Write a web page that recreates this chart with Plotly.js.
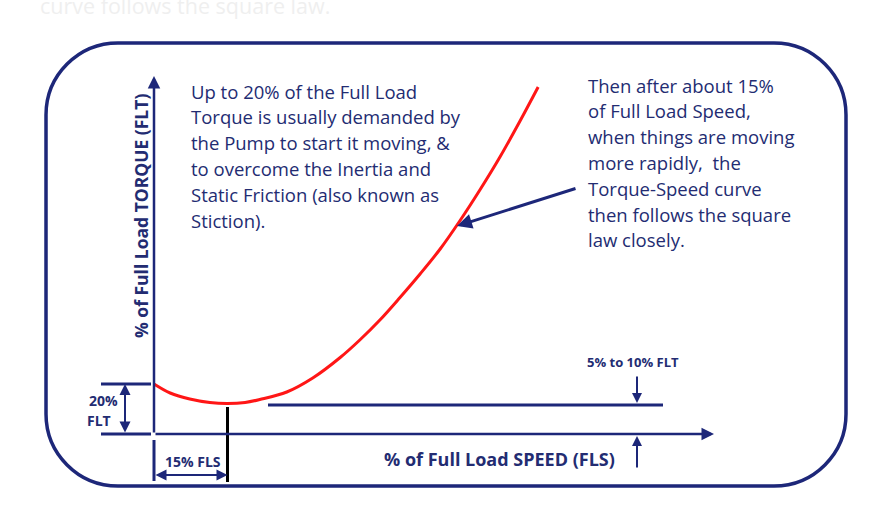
<!DOCTYPE html>
<html>
<head>
<meta charset="utf-8">
<script src="https://cdn.plot.ly/plotly-3.0.1.min.js"></script>
<style>html,body{margin:0;padding:0;background:#fff;}#chart{width:890px;height:508px;}</style>
</head>
<body>
<div id="chart"></div>
<script>
// Data: % of Full Load Speed vs % of Full Load Torque (schematic pump curve)
const speedPct  = [0, 3.3, 7.3, 11.4, 14.9, 18.6, 21.6, 27.1, 32.4, 38, 42, 46.1, 50.2, 54.3, 58.4, 62.4, 66.5, 70.6, 74.7, 78.4];
const torquePct = [20, 16.4, 14, 12.6, 12.2, 12.6, 13.8, 16.8, 22.4, 30.6, 37.6, 45.6, 54.6, 64, 74, 85.2, 97.6, 110.8, 125.2, 138.8];

const startTorque = 20;   // 20% FLT
const startSpeed = 15;    // 15% FLS
const xTitle = "% of Full Load SPEED (FLS)";
const yTitle = "% of Full Load TORQUE (FLT)";
const leftNote = ["Up to 20% of the Full Load", "Torque is usually demanded by", "the Pump to start it moving, &",
                  "to overcome the Inertia and", "Static Friction (also known as", "Stiction)."];
const rightNote = ["Then after about 15%", "of Full Load Speed,", "when things are moving", "more rapidly,  the",
                   "Torque-Speed curve", "then follows the square", "law closely."];
const frictionLabel = "5% to 10% FLT";
const fltLabel = ["20%", "FLT"];
const flsLabel = "15% FLS";
const fadedCaption = "curve follows the square law.";

// scale: pixel helpers (layout only)
const W = 890, H = 508, X0 = 154, Y0 = 434, KX = 4.9, KY = 2.5;
const dx = p => (p - X0) / KX;
const dy = p => (Y0 - p) / KY;
const NAVY = "#1d2779", TXT = "#232c72";
const FONT = "Open Sans, DejaVu Sans, sans-serif";

function arrow(x1, y1, x2, y2, opts) {
  return Object.assign({x: x2, y: y2, ax: x1, ay: y1, xref: "x", yref: "y", axref: "x", ayref: "y",
    text: "", showarrow: true, arrowhead: 2, arrowsize: 1, arrowwidth: 2.5, arrowcolor: NAVY, standoff: 0, startstandoff: 0}, opts || {});
}
function label(x, y, text, size, bold, opts) {
  return Object.assign({x: x, y: y, xref: "x", yref: "y", text: bold ? "<b>" + text + "</b>" : text, showarrow: false,
    font: {family: FONT, size: size, color: TXT}, xanchor: "center", yanchor: "middle"}, opts || {});
}
function seg(x0, y0, x1, y1, color, w) {
  return {type: "line", xref: "x", yref: "y", x0: x0, y0: y0, x1: x1, y1: y1, line: {color: color || NAVY, width: w || 3}};
}

// rounded frame in paper coordinates
function roundRect(l, t, r, b, rad) {
  const px = p => (p / W).toFixed(5), py = p => (1 - p / H).toFixed(5);
  const k = 0.5523 * rad;
  return "M " + px(l + rad) + "," + py(t) +
    " L " + px(r - rad) + "," + py(t) +
    " C " + px(r - rad + k) + "," + py(t) + " " + px(r) + "," + py(t + rad - k) + " " + px(r) + "," + py(t + rad) +
    " L " + px(r) + "," + py(b - rad) +
    " C " + px(r) + "," + py(b - rad + k) + " " + px(r - rad + k) + "," + py(b) + " " + px(r - rad) + "," + py(b) +
    " L " + px(l + rad) + "," + py(b) +
    " C " + px(l + rad - k) + "," + py(b) + " " + px(l) + "," + py(b - rad + k) + " " + px(l) + "," + py(b - rad) +
    " L " + px(l) + "," + py(t + rad) +
    " C " + px(l) + "," + py(t + rad - k) + " " + px(l + rad - k) + "," + py(t) + " " + px(l + rad) + "," + py(t) + " Z";
}

const trace = {x: speedPct, y: torquePct, type: "scatter", mode: "lines",
  line: {color: "#ff1616", width: 3, shape: "spline", smoothing: 1}, hoverinfo: "skip"};

const shapes = [
  {type: "path", xref: "paper", yref: "paper", path: roundRect(46, 43, 846, 486, 72), line: {color: NAVY, width: 3.5}},
  // friction baseline
  seg(dx(268), dy(405), dx(663), dy(405)),
  // 20% FLT ticks
  seg(dx(101), startTorque, dx(151), startTorque),
  seg(dx(101), 0, dx(151), 0),
  // 15% FLS markers
  seg(0, dy(440), 0, dy(481)),
  seg(startSpeed, dy(407), startSpeed, dy(482), "#000000", 3)
];

const annotations = [
  // axes
  arrow(0, 0, 0, dy(76), {arrowwidth: 2.5}),
  arrow(0, 0, dx(714), 0, {arrowwidth: 2.5}),
  // 20% FLT double arrow
  arrow(dx(125), 0, dx(125), startTorque, {arrowside: "end+start", arrowwidth: 2, arrowsize: 1.1}),
  // 15% FLS double arrow
  arrow(0, dy(475), startSpeed, dy(475), {arrowside: "end+start", arrowwidth: 2, arrowsize: 1.1}),
  // friction arrows
  arrow(dx(637), dy(375), dx(637), dy(403), {arrowwidth: 2}),
  arrow(dx(637), dy(469), dx(637), dy(436), {arrowwidth: 2}),
  // pointer to curve
  arrow(dx(577), dy(188), dx(457), dy(226), {arrowwidth: 3}),
  // titles
  label(dx(499), dy(459), xTitle, 18, true),
  label(dx(141), dy(216), yTitle, 17.5, true, {textangle: -90}),
  label(dx(633), dy(362), frictionLabel, 13, true),
  label(dx(103), dy(400), fltLabel[0], 14, true),
  label(dx(99), dy(420), fltLabel[1], 14, true),
  label(dx(193), dy(461), flsLabel, 14, true),
  label(dx(38), dy(5), fadedCaption, 21.5, false, {xanchor: "left", font: {family: FONT, size: 21.5, color: "#efefef"}})
];
leftNote.forEach((t, i) => annotations.push(label(dx(189), dy(91 + i * 25.8), t, 18.5, false, {xanchor: "left"})));
rightNote.forEach((t, i) => annotations.push(label(dx(586), dy(85 + i * 25.8), t, 18.5, false, {xanchor: "left"})));

const axisBase = {showgrid: false, zeroline: false, showticklabels: false, showline: false, ticks: "", fixedrange: true};
const layout = {
  width: W, height: H, margin: {l: 0, r: 0, t: 0, b: 0},
  paper_bgcolor: "#ffffff", plot_bgcolor: "#ffffff", showlegend: false,
  xaxis: Object.assign({range: [dx(0), dx(W)]}, axisBase),
  yaxis: Object.assign({range: [dy(H), dy(0)]}, axisBase),
  shapes: shapes, annotations: annotations
};
Plotly.newPlot("chart", [trace], layout, {staticPlot: true, displayModeBar: false});
</script>
</body>
</html>
